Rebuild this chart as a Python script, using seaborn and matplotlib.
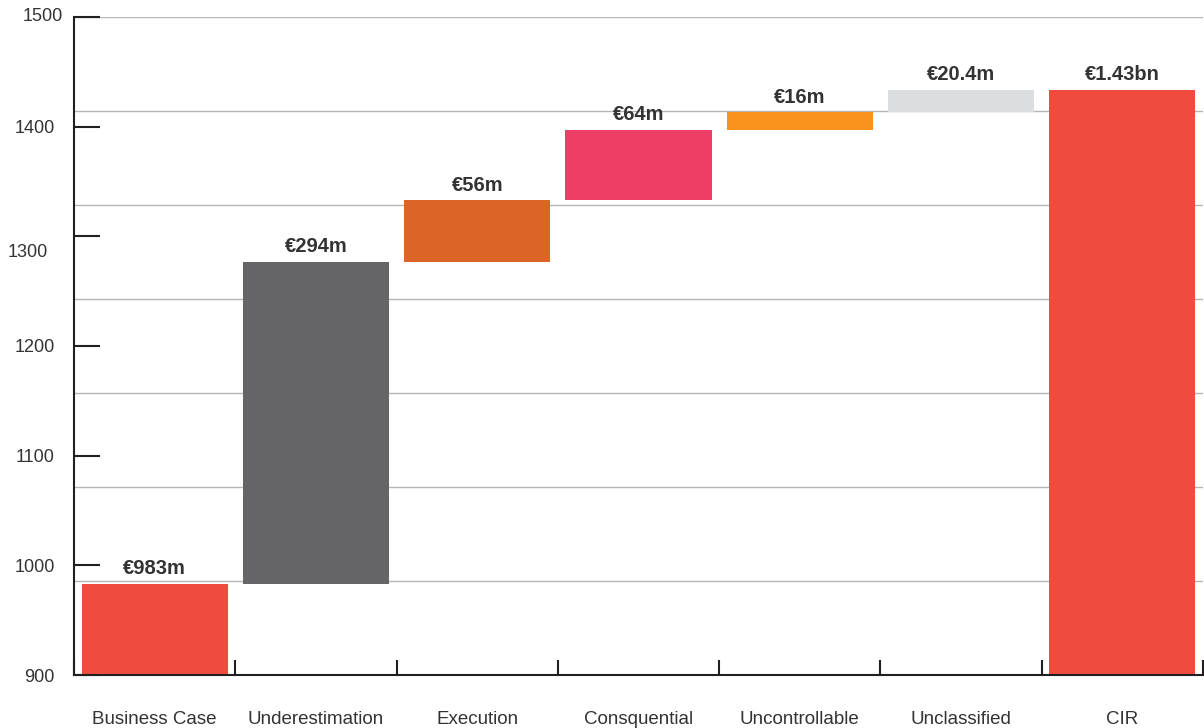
import numpy as np
import pandas as pd
import matplotlib
matplotlib.use("Agg")
import matplotlib.pyplot as plt
import matplotlib.transforms as mtransforms
import seaborn as sns

# Cost bridge: business case -> overrun drivers -> final cost (CIR)
categories = ["Business Case", "Underestimation", "Execution", "Consquential",
              "Uncontrollable", "Unclassified", "CIR"]
values = [983, 294, 56, 64, 16, 20.4, 1433.4]
is_total = [True, False, False, False, False, False, True]
value_labels = ["€983m", "€294m", "€56m", "€64m", "€16m", "€20.4m", "€1.43bn"]
bar_colors = ["#EE4C3D", "#656567", "#DA6526", "#EF3E66", "#F7931E", "#DCDDDF", "#EE4C3D"]
y_ticks = [900, 1000, 1100, 1200, 1300, 1400, 1500]

sns.set_theme(style="white")
plt.rcParams["font.family"] = ["Liberation Sans", "DejaVu Sans"]

ink = "#231F20"
text_col = "#333333"

# floating bars start where the running total left off; totals start at zero
bases = []
running = 0.0
for v, tot in zip(values, is_total):
    if tot:
        bases.append(0.0)
        running = v
    else:
        bases.append(running)
        running += v

df = pd.DataFrame({"category": categories, "value": values})

fig = plt.figure(figsize=(12.04, 7.28), dpi=100)
ax = fig.add_axes([74 / 1204, 53 / 728, 1129 / 1204, 658 / 728])

sns.barplot(data=df, x="category", y="value", order=categories, width=0.906,
            color=bar_colors[0], saturation=1, errorbar=None, linewidth=0,
            ax=ax, zorder=2)

for patch, base, col in zip(ax.patches, bases, bar_colors):
    patch.set_y(base)
    patch.set_facecolor(col)
    patch.set_edgecolor("none")

ax.set_xlim(-0.5, len(categories) - 0.5)
ax.set_ylim(y_ticks[0], y_ticks[-1])

# horizontal guide lines: seven equal bands over the value range
guides = np.linspace(y_ticks[0], y_ticks[-1], 8)[1:]
ax.hlines(guides, -0.5, len(categories) - 0.5, color="#B5B5B5", lw=1.0, zorder=0)

# value labels above each bar
for i, (b, v, lab) in enumerate(zip(bases, values, value_labels)):
    ax.annotate(lab, (i, b + v), xytext=(0, 4), textcoords="offset points",
                ha="center", va="bottom", fontsize=14.5, fontweight="bold",
                color=text_col, zorder=3)

for side in ("top", "right"):
    ax.spines[side].set_visible(False)
for side in ("left", "bottom"):
    ax.spines[side].set_color(ink)
    ax.spines[side].set_linewidth(1.5)

ax.set_yticks(y_ticks)
ax.tick_params(axis="y", which="major", direction="in", length=19, width=1.5,
               color=ink, pad=14, labelsize=13, labelcolor=text_col, left=True)
ax.set_xticks(np.arange(-0.5, len(categories)), minor=True)
ax.tick_params(axis="x", which="major", length=0, pad=26, labelsize=13.5,
               labelcolor=text_col)
ax.tick_params(axis="x", which="minor", direction="in", length=11, width=1.5,
               color=ink, bottom=True)
ax.set_xlabel("")
ax.set_ylabel("")

# hand-set nudges of a couple of axis numbers (points)
label_nudge = {1500: (6, 2), 1300: (-5, -10)}
for tick_val, lab in zip(y_ticks, ax.get_yticklabels()):
    if tick_val in label_nudge:
        dx, dy = label_nudge[tick_val]
        lab.set_transform(lab.get_transform() +
                          mtransforms.ScaledTranslation(dx / 72, dy / 72,
                                                        fig.dpi_scale_trans))

fig.savefig("out.png", dpi=100)
